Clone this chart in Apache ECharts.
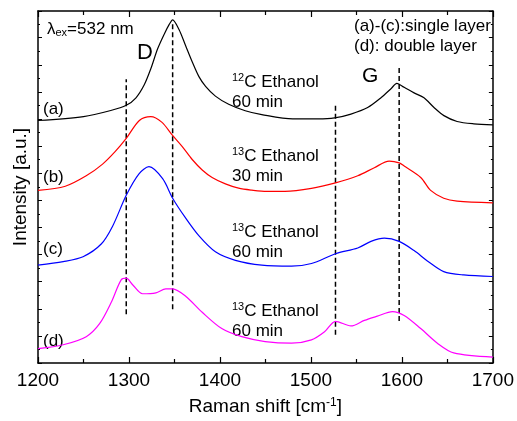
<!DOCTYPE html>
<html>
<head>
<meta charset="utf-8">
<title>Raman</title>
<style>
html, body { margin: 0; padding: 0; background: #fff; }
#ramanChart { width: 517px; height: 421px; }
</style>
<script src="https://cdn.jsdelivr.net/npm/echarts/dist/echarts.min.js"></script>
</head>
<body>
<div id="ramanChart"></div>
<script>
/** Raman 光谱 **/
var shiftMin = 1200, shiftMax = 1700, shiftStep = 100;
var intensityMax = 361, intensityStep = 27.8;

// (a) 12C Ethanol 60 min
var specA = [[1200, 248.7], [1250, 252.7], [1280, 259], [1297, 264.3], [1307.7, 272], [1316.8, 285.3],
	[1324.1, 302], [1331.4, 322], [1338.6, 337], [1344.1, 347], [1348, 352], [1355, 342], [1362.3, 325.3],
	[1369.6, 308.7], [1376.9, 293.7], [1384.2, 283.7], [1395, 273.7], [1409.6, 265.3], [1427.8, 258.7],
	[1446, 254.7], [1480, 250.3], [1508, 250.3], [1526, 251.3], [1544, 255.3], [1562.4, 262], [1577, 272],
	[1588, 281.3], [1594.5, 286.7], [1602.5, 282.7], [1613.4, 277], [1624.3, 272], [1635.3, 262],
	[1646.2, 253.7], [1660.7, 247.7], [1679, 245.3], [1700, 244.3]];
// (b) 13C Ethanol 30 min
var specB = [[1200, 177], [1230, 181.3], [1253, 192], [1271, 204], [1285, 217], [1297, 230.3], [1311.4, 248.7],
	[1324, 252.7], [1336, 247], [1347.7, 233.7], [1358.6, 222], [1369.5, 208.7], [1380.5, 198], [1391.4, 190.3],
	[1406, 183.7], [1420.5, 179.3], [1435, 177.3], [1451.4, 176], [1471.5, 176], [1500.6, 179], [1527, 184.7],
	[1551.5, 192], [1569.7, 200.3], [1586, 207], [1597, 205.3], [1602.5, 202], [1620.7, 190.3], [1631.6, 177],
	[1646, 169], [1660.7, 166], [1700, 164.3]];
// (c) 13C Ethanol 60 min
var specC = [[1200, 100.3], [1227.7, 104], [1249.5, 109], [1269.5, 122], [1282, 140.3], [1297, 172], [1311, 194],
	[1322, 201.3], [1337, 189], [1348, 169], [1362, 149], [1377, 130.3], [1395, 114], [1417, 105.3], [1446, 100.3],
	[1478.7, 99.3], [1500.6, 102], [1527, 112], [1551.5, 118], [1566, 124.7], [1580.7, 128], [1597, 124.7],
	[1613.4, 115.3], [1628, 104.7], [1646, 93.7], [1668, 90.3], [1700, 88.7]];
// (d) 13C Ethanol 60 min, double layer
var specD = [[1200, 14.7], [1227.7, 18.7], [1253, 27], [1267.7, 40.3], [1280.4, 62], [1291.4, 85.3], [1297, 87],
	[1304, 80.3], [1315, 71], [1329.6, 72], [1340.5, 76], [1348, 76], [1362, 68.7], [1380.5, 52], [1402, 35.3],
	[1424, 27], [1449.7, 22], [1478.7, 20.3], [1500.6, 23.7], [1515, 32], [1527, 42.7], [1544, 38], [1558.8, 43.7],
	[1573, 48], [1589.7, 52.7], [1602.5, 48.7], [1620.7, 35.3], [1639, 20.3], [1657, 10.3], [1700, 6]];

var specList = [specA, specB, specC, specD];
var specColor = ['#000000', '#ff0000', '#0000ff', '#ff00ff'];
var specTag = ['(a)', '(b)', '(c)', '(d)'];
var specNote = [['12', 'C Ethanol', '60 min'], ['13', 'C Ethanol', '30 min'], ['13', 'C Ethanol', '60 min'], ['13', 'C Ethanol', '60 min']];

// 虚线位置
var peakShift = [1297, 1348, 1527, 1597];
var peakTop = [291, 349, 265, 305];
var peakBottom = [50, 55, 29, 43];

var fontName = 'Liberation Sans';

var ramanChart = {
	init: function() {
		this.chart = echarts.init(document.getElementById('ramanChart'));
		this.chart.setOption(this.getOption(), true);
	},
	axisX: function(pos, showLabel) {
		return {
			type: 'value',
			position: pos,
			min: shiftMin,
			max: shiftMax,
			interval: shiftStep,
			axisLine: { show: true, onZero: false, lineStyle: { color: '#000', width: 1.5 } },
			axisTick: { show: true, inside: true, length: 6, lineStyle: { color: '#000', width: 1.2 } },
			minorTick: { show: true, splitNumber: 2, length: 4, lineStyle: { color: '#000', width: 1.2 } },
			axisLabel: {
				show: showLabel, color: '#000', fontSize: 19, fontFamily: fontName, margin: 8,
				formatter: function(v) { return String(v); }
			},
			splitLine: { show: false }
		};
	},
	axisY: function(pos) {
		return {
			type: 'value',
			position: pos,
			min: 0,
			max: intensityMax,
			interval: intensityStep,
			axisLine: { show: true, onZero: false, lineStyle: { color: '#000', width: 1.5 } },
			axisTick: { show: true, inside: true, length: 4, lineStyle: { color: '#000', width: 1 } },
			minorTick: { show: true, splitNumber: 2, length: 2, lineStyle: { color: '#000', width: 1 } },
			axisLabel: { show: false },
			splitLine: { show: false }
		};
	},
	getSeries: function() {
		var series = [];
		specList.forEach(function(spec, i) {
			series.push({
				type: 'line',
				data: spec,
				showSymbol: false,
				smooth: 0.3,
				silent: true,
				lineStyle: { color: specColor[i], width: 1.2 },
				z: 3
			});
		});
		peakShift.forEach(function(x, i) {
			series.push({
				type: 'line',
				data: [[x, peakBottom[i]], [x, peakTop[i]]],
				showSymbol: false,
				silent: true,
				lineStyle: { color: '#000', width: 1.5, type: [5, 3] },
				z: 2
			});
		});
		return series;
	},
	getText: function() {
		var rich = {
			n: { fontSize: 17, fontFamily: fontName, lineHeight: 19, fill: '#000' },
			sup: { fontSize: 11, fontFamily: fontName, lineHeight: 12, verticalAlign: 'top', fill: '#000' },
			sub: { fontSize: 11, fontFamily: fontName, lineHeight: 12, verticalAlign: 'bottom', fill: '#000' }
		};
		var texts = [];
		var text = function(x, y, str, size) {
			texts.push({
				type: 'text', x: x, y: y, silent: true,
				style: {
					text: str, fill: '#000', fontSize: size, fontFamily: fontName,
					verticalAlign: 'middle', rich: rich
				}
			});
		};
		text(47, 29, '{n|λ}{sub|ex}{n|=532 nm}', 17);
		text(137, 53, 'D', 22);
		text(362, 76, 'G', 21);
		text(354, 26, '(a)-(c):single layer', 17);
		text(354, 46, '(d): double layer', 17);
		var tagY = [109, 177, 249, 341];
		var noteY = [82, 156, 232, 311];
		specTag.forEach(function(tag, i) {
			text(43, tagY[i], tag, 17);
			text(232, noteY[i], '{sup|' + specNote[i][0] + '}{n|' + specNote[i][1] + '}', 17);
			text(232, noteY[i] + 20, specNote[i][2], 17);
		});
		return texts;
	},
	getOption: function() {
		var xBottom = this.axisX('bottom', true);
		xBottom.name = 'Raman shift [cm{sup|-1}]';
		xBottom.nameLocation = 'middle';
		xBottom.nameGap = 34;
		xBottom.nameTextStyle = {
			color: '#000', fontSize: 19, fontFamily: fontName,
			rich: {
				sup: { fontSize: 12, fontFamily: fontName, verticalAlign: 'top', lineHeight: 12, color: '#000' }
			}
		};
		var yLeft = this.axisY('left');
		yLeft.name = 'Intensity [a.u.]';
		yLeft.nameLocation = 'middle';
		yLeft.nameGap = 8;
		yLeft.nameTextStyle = { color: '#000', fontSize: 19, fontFamily: fontName };
		return {
			animation: false,
			backgroundColor: '#fff',
			grid: { left: 38, right: 21, top: 11, bottom: 49, containLabel: false },
			xAxis: [xBottom, this.axisX('top', false)],
			yAxis: [yLeft, this.axisY('right')],
			series: this.getSeries(),
			graphic: this.getText()
		};
	}
};

ramanChart.init();
</script>
</body>
</html>
